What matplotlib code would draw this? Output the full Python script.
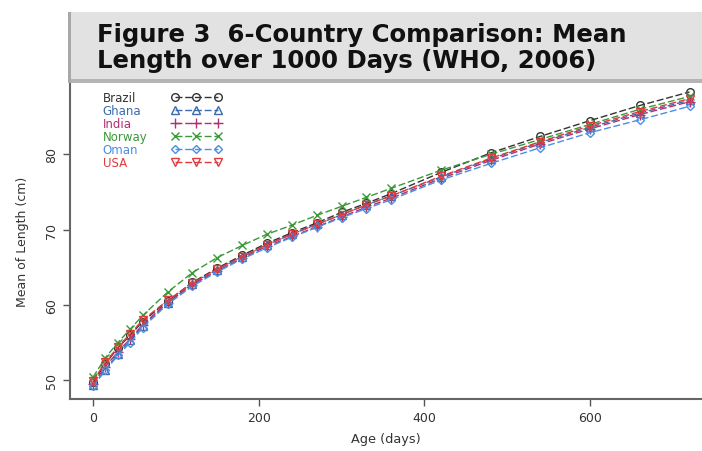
import numpy as np
import matplotlib.pyplot as plt
from matplotlib.patches import Rectangle

days = [0, 15, 30, 45, 60, 90, 120, 150, 180, 210, 240, 270, 300, 330, 360,
        420, 480, 540, 600, 660, 720]

brazil = [49.7, 52.2, 54.3, 56.0, 57.8, 60.5, 63.0, 64.9, 66.6, 68.2, 69.6,
          70.9, 72.3, 73.5, 74.8, 77.6, 80.2, 82.4, 84.5, 86.5, 88.3]
ghana = [49.3, 51.4, 53.5, 55.3, 57.2, 60.3, 62.8, 64.7, 66.4, 68.0, 69.4,
         70.7, 72.0, 73.3, 74.5, 77.0, 79.4, 81.6, 83.6, 85.5, 87.2]
india = [49.5, 51.8, 53.8, 55.5, 57.4, 60.3, 62.7, 64.5, 66.2, 67.8, 69.1,
         70.4, 71.7, 73.0, 74.2, 76.8, 79.2, 81.4, 83.4, 85.3, 87.0]
norway = [50.4, 53.0, 55.0, 56.8, 58.6, 61.7, 64.3, 66.3, 67.9, 69.4, 70.6,
          71.9, 73.1, 74.3, 75.5, 77.9, 80.0, 82.0, 84.0, 86.0, 87.7]
oman = [49.2, 51.3, 53.3, 55.0, 57.0, 60.1, 62.5, 64.4, 66.1, 67.6, 69.0,
        70.3, 71.6, 72.8, 74.0, 76.6, 78.8, 80.9, 82.9, 84.6, 86.4]
usa = [49.9, 52.4, 54.4, 56.2, 58.0, 60.6, 62.9, 64.8, 66.4, 68.0, 69.4,
       70.7, 72.0, 73.3, 74.5, 77.1, 79.5, 81.7, 83.8, 85.7, 87.4]

countries = ["Brazil", "Ghana", "India", "Norway", "Oman", "USA"]
series = [brazil, ghana, india, norway, oman, usa]
colors = ["#333333", "#3b6bb0", "#b03070", "#3a9a3a", "#4a8fe0", "#e03a3a"]
markers = ["o", "^", "+", "x", "D", "v"]
msizes = [5.5, 5.5, 6.5, 6, 4.5, 5.5]

plt.rcParams['font.family'] = ['DejaVu Sans']

fig = plt.figure(figsize=(7.02, 4.52), dpi=100)
ax = fig.add_axes([0.0997, 0.115, 0.9003, 0.701])

lines = []
for name, vals, c, m, ms in zip(countries, series, colors, markers, msizes):
    ln, = ax.plot(days, vals, color=c, marker=m, markersize=ms, fillstyle='none',
                  markeredgewidth=1.0, linestyle=(0, (5, 2)), linewidth=1.0, label=name)
    lines.append(ln)

ax.set_xlim(-27.8, 735)
ax.set_ylim(47.5, 89.6)
ax.set_xticks([0, 200, 400, 600])
ax.set_yticks([50, 60, 70, 80])
for lab in ax.get_yticklabels():
    lab.set_rotation(90)
    lab.set_va('center')
ax.tick_params(colors='#555555', labelcolor='#333333', labelsize=9,
               length=5, width=1.0)
ax.spines['top'].set_visible(False)
ax.spines['right'].set_visible(False)
for s in ['left', 'bottom']:
    ax.spines[s].set_color('#666666')
    ax.spines[s].set_linewidth(1.5)
ax.set_xlabel("Age (days)", fontsize=9.3, color='#333333', labelpad=6)
ax.set_ylabel("Mean of Length (cm)", fontsize=9, color='#333333', labelpad=12)

# legend: names in one column, marker samples in the next
leg1 = ax.legend(lines, countries, loc='upper left', bbox_to_anchor=(0.052, 0.972),
                 frameon=False, labelcolor='linecolor', fontsize=8.5,
                 handlelength=0, handletextpad=0, labelspacing=0,
                 borderpad=0, borderaxespad=0)
for h in leg1.legend_handles:
    h.set_visible(False)
ax.add_artist(leg1)
ax.legend(lines, [" "] * len(lines), loc='upper left', bbox_to_anchor=(0.16, 0.972),
          frameon=False, fontsize=8.5, numpoints=3, handlelength=4.3,
          handletextpad=0, labelspacing=0, borderpad=0, borderaxespad=0)

# title banner
fig.patches.append(Rectangle((0.0997, 0.821), 0.9003, 0.151, transform=fig.transFigure,
                             facecolor='#e2e2e2', edgecolor='none', zorder=5))
fig.patches.append(Rectangle((0.0997, 0.814), 0.9003, 0.008, transform=fig.transFigure,
                             facecolor='#b4b4b4', edgecolor='none', zorder=5))
fig.patches.append(Rectangle((0.0975, 0.814), 0.004, 0.158, transform=fig.transFigure,
                             facecolor='#a8a8a8', edgecolor='none', zorder=5))
fig.text(0.138, 0.906, "Figure 3  6-Country Comparison: Mean", fontsize=17.6,
         fontweight='bold', color='#111111', va='baseline', ha='left', zorder=6)
fig.text(0.138, 0.849, "Length over 1000 Days (WHO, 2006)", fontsize=17.6,
         fontweight='bold', color='#111111', va='baseline', ha='left', zorder=6)

fig.savefig("out.png", dpi=100)
